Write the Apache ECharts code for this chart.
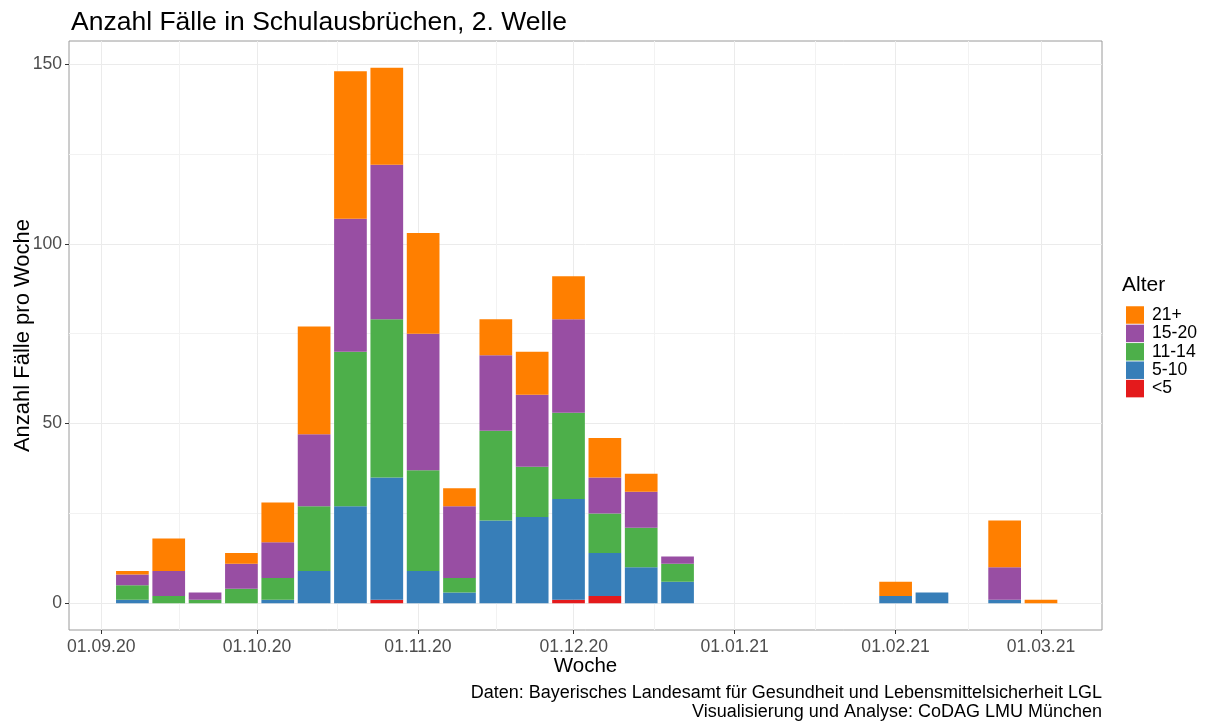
<!DOCTYPE html>
<html>
<head>
<meta charset="utf-8">
<script src="https://cdn.jsdelivr.net/npm/echarts@6/dist/echarts.min.js"></script>
<style>
  html, body { margin: 0; padding: 0; background: #fff; }
  #chart { width: 1205px; height: 724px; }
</style>
</head>
<body>
<div id="chart"></div>
<script>
// Wochen (Montag) und Fälle je Altersgruppe
var weeks = ['2020-09-07', '2020-09-14', '2020-09-21', '2020-09-28', '2020-10-05', '2020-10-12',
  '2020-10-19', '2020-10-26', '2020-11-02', '2020-11-09', '2020-11-16', '2020-11-23',
  '2020-11-30', '2020-12-07', '2020-12-14', '2020-12-21', '2021-02-01', '2021-02-08',
  '2021-02-22', '2021-03-01'];
var ageLt5   = [0, 0, 0, 0, 0, 0, 0, 1, 0, 0, 0, 0, 1, 2, 0, 0, 0, 0, 0, 0];
var age5_10  = [1, 0, 0, 0, 1, 9, 27, 34, 9, 3, 23, 24, 28, 12, 10, 6, 2, 3, 1, 0];
var age11_14 = [4, 2, 1, 4, 6, 18, 43, 44, 28, 4, 25, 14, 24, 11, 11, 5, 0, 0, 0, 0];
var age15_20 = [3, 7, 2, 7, 10, 20, 37, 43, 38, 20, 21, 20, 26, 10, 10, 2, 0, 0, 9, 0];
var age21p   = [1, 9, 0, 3, 11, 30, 41, 27, 28, 5, 10, 12, 12, 11, 5, 0, 4, 0, 13, 1];

var groups = ['<5', '5-10', '11-14', '15-20', '21+'];
var colors = ['#E41A1C', '#377EB8', '#4DAF4A', '#984EA3', '#FF7F00'];

var monthTicks = ['2020-09-01', '2020-10-01', '2020-11-01', '2020-12-01', '2021-01-01', '2021-02-01', '2021-03-01'];
var yTicks = [0, 50, 100, 150];
var yMinor = [25, 75, 125];

function toTs(s) {
  var p = s.split('-');
  return new Date(+p[0], +p[1] - 1, +p[2]).getTime();
}
function pad(n) { return (n < 10 ? '0' : '') + n; }

var font = 'Liberation Sans, Arial, sans-serif';
var weekTs = weeks.map(toTs);
var majorTs = monthTicks.map(toTs);
var minorTs = [];
for (var i = 0; i < majorTs.length - 1; i++) minorTs.push((majorTs[i] + majorTs[i + 1]) / 2);

var xMin = new Date(2020, 7, 25, 19).getTime();
var xMax = new Date(2021, 2, 12, 18).getTime();

// echarts widens a time axis carrying bars by one bar width; shrink it beforehand
var plotW = 1205 - 69 - 103;
var barW = 32.7;
var span = (xMax - xMin) * (1 - barW / plotW);
var pad0 = ((xMax - xMin) - span) / 2;
var barMin = xMin + pad0;
var barMax = xMax - pad0;

var values = [ageLt5, age5_10, age11_14, age15_20, age21p];
var series = groups.map(function (g, k) {
  return {
    name: g,
    type: 'bar',
    stack: 'total',
    xAxisIndex: 0,
    yAxisIndex: 0,
    barWidth: barW,
    itemStyle: { color: colors[k] },
    emphasis: { disabled: true },
    data: weekTs.map(function (t, i) { return [t, values[k][i]]; })
  };
});

var chart = echarts.init(document.getElementById('chart'));
chart.setOption({
  animation: false,
  title: [{
    text: 'Anzahl Fälle in Schulausbrüchen, 2. Welle',
    left: 66, top: 4,
    textStyle: { fontFamily: font, fontSize: 26.5, fontWeight: 'normal', color: '#000' }
  }, {
    text: 'Alter',
    left: 1117, top: 270,
    textStyle: { fontFamily: font, fontSize: 21, fontWeight: 'normal', color: '#000' }
  }],
  graphic: [{
    type: 'text', right: 103, top: 684,
    style: { text: 'Daten: Bayerisches Landesamt für Gesundheit und Lebensmittelsicherheit LGL',
      font: '18px ' + font, fill: '#000', textAlign: 'right' }
  }, {
    type: 'text', right: 103, top: 703,
    style: { text: 'Visualisierung und Analyse: CoDAG LMU München',
      font: '18px ' + font, fill: '#000', textAlign: 'right' }
  }],
  legend: {
    data: ['21+', '15-20', '11-14', '5-10', '<5'],
    orient: 'vertical',
    left: 1121, top: 301,
    icon: 'rect',
    itemWidth: 18, itemHeight: 17.5, itemGap: 0.4,
    selectedMode: false,
    textStyle: { fontFamily: font, fontSize: 17.6, lineHeight: 17.5, color: '#000', padding: [0, 0, 0, 3] }
  },
  grid: {
    left: 69, top: 41, right: 103, bottom: 94,
    outerBoundsMode: 'none',
    show: true, borderColor: '#9a9a9a', borderWidth: 1
  },
  xAxis: [{
    // Zeitachse für die Balken
    type: 'time',
    position: 'bottom',
    min: barMin, max: barMax,
    axisLine: { show: false, onZero: false },
    axisTick: { show: false },
    axisLabel: { show: false },
    splitLine: { show: false }
  }, {
    type: 'value',
    position: 'bottom',
    min: xMin, max: xMax,
    name: 'Woche', nameLocation: 'middle', nameGap: 26, nameMoveOverlap: false,
    nameTextStyle: { fontFamily: font, fontSize: 20.5, color: '#000' },
    axisLine: { show: false, onZero: false },
    axisTick: { show: true, length: 4, lineStyle: { color: '#333' }, customValues: majorTs },
    axisLabel: {
      customValues: majorTs, margin: 8,
      fontFamily: font, fontSize: 17.6, color: '#4D4D4D',
      formatter: function (v) {
        var d = new Date(v);
        return pad(d.getDate()) + '.' + pad(d.getMonth() + 1) + '.' + String(d.getFullYear()).slice(2);
      }
    },
    splitLine: { show: true, lineStyle: { color: '#EBEBEB', width: 1 } }
  }, {
    type: 'value',
    position: 'bottom',
    min: xMin, max: xMax,
    axisLine: { show: false, onZero: false },
    axisTick: { show: false, customValues: minorTs },
    axisLabel: { show: false },
    splitLine: { show: true, lineStyle: { color: '#F2F2F2', width: 1 } }
  }],
  yAxis: [{
    type: 'value',
    position: 'left',
    min: -7.45, max: 156.45,
    name: 'Anzahl Fälle pro Woche', nameLocation: 'middle', nameGap: 35, nameMoveOverlap: false,
    nameTextStyle: { fontFamily: font, fontSize: 22, color: '#000' },
    axisLine: { show: false, onZero: false },
    axisTick: { show: true, length: 4, lineStyle: { color: '#333' }, customValues: yTicks },
    axisLabel: { customValues: yTicks, margin: 7, fontFamily: font, fontSize: 17.6, color: '#4D4D4D' },
    splitLine: { show: true, lineStyle: { color: '#EBEBEB', width: 1 } }
  }, {
    type: 'value',
    position: 'left',
    min: -7.45, max: 156.45,
    axisLine: { show: false, onZero: false },
    axisTick: { show: false, customValues: yMinor },
    axisLabel: { show: false },
    splitLine: { show: true, lineStyle: { color: '#F2F2F2', width: 1 } }
  }],
  series: series
});
</script>
</body>
</html>
